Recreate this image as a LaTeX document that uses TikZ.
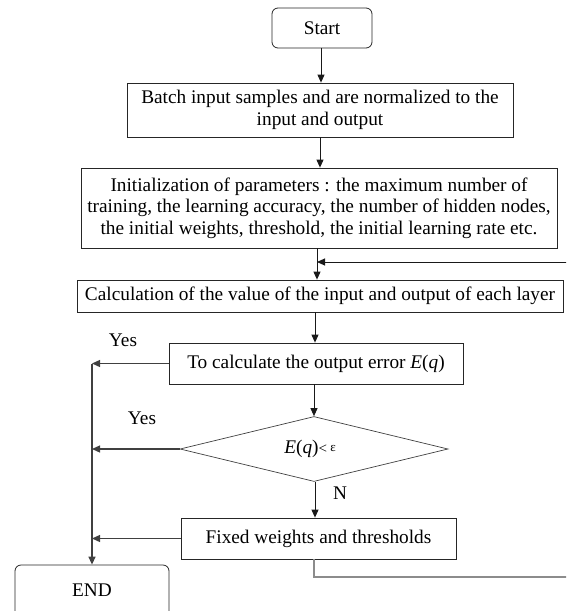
\documentclass[tikz,border=0pt]{standalone}
\usepackage{fontspec}
\setmainfont{Liberation Serif}
\usetikzlibrary{arrows.meta,shapes.geometric,calc}
\begin{document}
\begin{tikzpicture}[x=1pt,y=-1pt,
  font=\fontsize{19.3}{21.5}\selectfont,
  box/.style={draw=black!85,line width=0.8pt,inner sep=0pt,align=center},
  roundbox/.style={box,rounded corners=6pt},
  decbox/.style={draw=black!75,line width=0.7pt,shape=diamond,inner sep=0pt,aspect=4.1},
  flow/.style={line width=0.9pt,draw=black!90,-{Triangle[length=8pt,width=7pt]}},
  side/.style={line width=1.3pt,draw=black!75},
  sidearrow/.style={side,-{Triangle[length=8pt,width=7pt]}},
  loopline/.style={line width=1.2pt,draw=black!45},
  lbl/.style={inner sep=0pt}]
\useasboundingbox (0,0) rectangle (566,611);
\clip (0,0) rectangle (566,611);

% main column of steps
\node[roundbox,minimum width=100,minimum height=40] (start) at (322,28) {Start};
\node[box,minimum width=386,minimum height=54] (batch) at (320,110)
  {Batch input samples and are normalized to the\\input and output};
\node[box,minimum width=476,minimum height=80] (init) at (319,208)
  {Initialization of parameters : the maximum number of\\training, the learning accuracy, the number of hidden nodes,\\the initial weights, threshold, the initial learning rate etc.};
\node[box,minimum width=486,minimum height=32] (calc) at (320,296)
  {Calculation of the value of the input and output of each layer};
\node[box,minimum width=294,minimum height=41] (err) at (316,363.5)
  {To calculate the output error \textit{E}(\textit{q})};
\node[decbox,minimum width=268,minimum height=65] (dec) at (314,449)
  {\hspace*{-8pt}\textit{E}(\textit{q}){\fontsize{15}{15}\selectfont<}\,\raisebox{2pt}{\fontsize{13}{13}\selectfont ε}};
\node[box,minimum width=275,minimum height=41] (fix) at (318.5,538.5)
  {Fixed weights and thresholds};
\node[roundbox,minimum width=154,minimum height=56] (end) at (92,593)
  {\raisebox{6pt}{END}};

% helper points
\coordinate (spine) at (317,0);
\coordinate (left) at (92,363.5);
\coordinate (ret) at (580,262);

% labels
\node[lbl] (yes1) at (123,340) {Yes};
\node[lbl] (yes2) at (142,418) {Yes};
\node[lbl] (no) at (340,493) {N};

% downward flow
\draw[flow] (start.south -| 321,0) -- (batch.north -| 321,0);
\draw[flow] (batch.south -| 320,0) -- (init.north -| 320,0);
\draw[flow] (init.south -| spine) -- (calc.north -| spine);
\draw[flow] (calc.south -| 315,0) -- (err.north -| 315,0);
\draw[flow] (err.south -| 314,0) -- (dec.north);
\draw[flow] (dec.south -| 315,0) -- (fix.north -| 315,0);

% exits to the END terminal
\draw[sidearrow] (err.west) -- (left);
\draw[sidearrow] (dec.west) -- (dec.west -| left);
\draw[sidearrow] (fix.west) -- (fix.west -| left);
\draw[side,-{Triangle[length=8pt,width=7pt]}] (left) -- (end.north -| left);

% feedback loop back above the layer calculation
\draw[loopline] (fix.south -| 314,0) |- (580,577) -- (ret);
\draw[flow] (ret) -- (ret -| spine);
\end{tikzpicture}
\end{document}
